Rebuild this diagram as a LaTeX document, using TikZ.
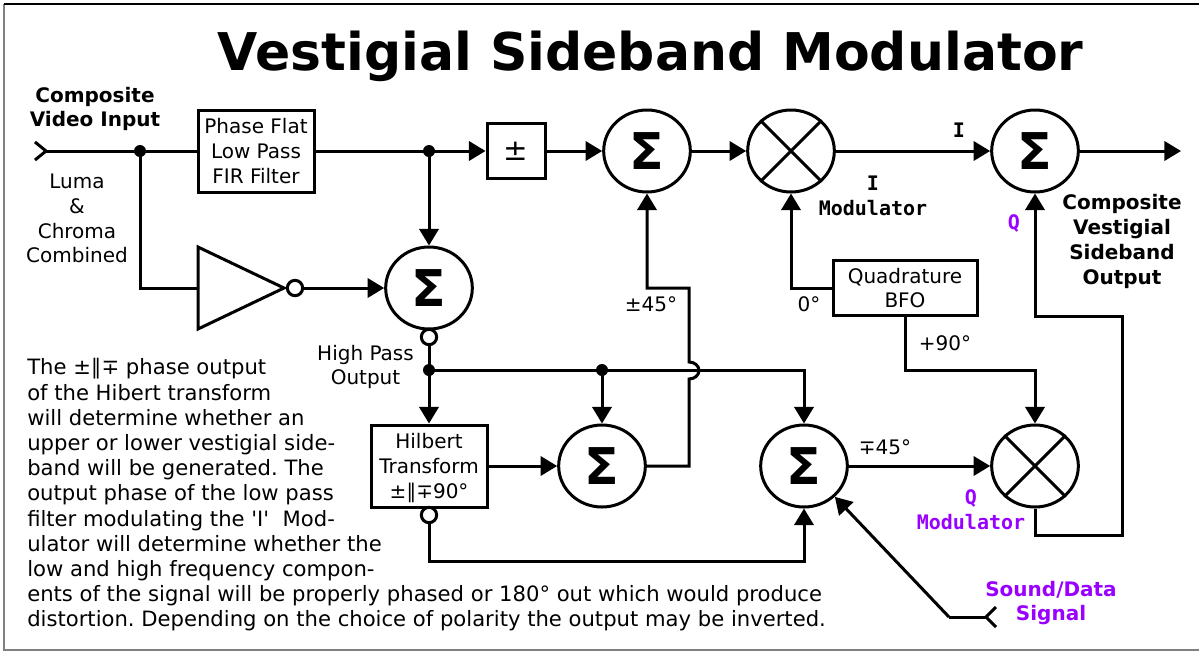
\documentclass[tikz,border=0pt]{standalone}
\usepackage{fontspec}
\setmainfont{DejaVu Sans}
\newfontfamily\monob{DejaVu Sans Mono}
\newfontfamily\plainf{DejaVu Sans}
\usetikzlibrary{arrows.meta,calc,shapes.geometric}
\definecolor{purp}{HTML}{9900FF}
\newcommand{\txt}{\fontsize{15}{18.6}\selectfont}
\newcommand{\ptxt}{\fontsize{15.85}{18.6}\selectfont\frenchspacing}
\tikzset{
 x=0.75pt,y=-0.75pt,
 wire/.style={line width=2.25pt,line join=miter},
 arr/.style={wire,-{Triangle[length=12.5pt,width=14.5pt]}},
 circ/.style={ellipse,draw,line width=2.25pt,minimum width=65pt,minimum height=61.5pt,inner sep=0,fill=white},
 sumnode/.style={circ,font=\fontsize{38}{38}\bfseries\selectfont},
 boxn/.style={rectangle,draw,line width=2.25pt,align=center,inner sep=0,font=\txt,fill=white},
 dotn/.style={circle,fill=black,inner sep=0,minimum size=9pt},
 bub/.style={circle,draw,line width=2.25pt,fill=white,inner sep=0,minimum size=11.5pt},
 lab/.style={align=center,inner sep=0,font=\txt},
 blab/.style={align=center,inner sep=0,font=\txt\bfseries},
 mlab/.style={align=center,inner sep=0,font=\txt\monob\bfseries},
 para/.style={anchor=base west,inner sep=0,font=\ptxt},
}
\begin{document}
\begin{tikzpicture}
\useasboundingbox (0,0) rectangle (1199,651);
\fill[white] (0,0) rectangle (1199,651);
\draw[gray,line width=1pt] (4,4) -- (4,650) -- (1199,650);
\draw[black,line width=1pt] (4,4) -- (1199,4);
\node[inner sep=0,font=\fontsize{39}{39}\bfseries\selectfont] (title) at (650.5,56) {Vestigial Sideband Modulator};
% nodes
\coordinate (in) at (46,151);
\node[boxn,minimum width=87pt,minimum height=61.5pt] (lpf) at (256,151) {Phase Flat\\Low Pass\\FIR Filter};
\node[boxn,minimum width=43.5pt,minimum height=41pt] (pm) at (516,151) {\fontsize{22}{22}\selectfont ±};
\node[sumnode] (s1) at (647,151) {Σ};
\node[circ] (x1) at (791,151) {};
\node[sumnode] (s4) at (1035,151) {Σ};
\coordinate (out) at (1181,151);
\node[sumnode] (hp) at (429,288) {Σ};
\node[bub] (b1) at (295,288) {};
\node[bub] (b2) at (429,337) {};
\node[boxn,minimum width=87pt,minimum height=61.5pt] (hil) at (429,466) {\rule{0pt}{14.4pt}Hilbert\\Transform\\±∥∓90°};
\node[bub] (b3) at (429,515) {};
\node[sumnode] (s2) at (602,466) {Σ};
\node[sumnode] (s3) at (804,466) {Σ};
\node[circ] (x2) at (1035,466) {};
\node[boxn,minimum width=108pt,minimum height=41pt] (bfo) at (905,288) {Quadrature\\BFO};
\coordinate (snd) at (986,617);
\coordinate (sndb) at (949,617);
% inverter
\draw[wire,fill=white] (198,247) coordinate (tria) -- (198,329) -- (284,288) coordinate (trit) -- cycle;
\coordinate (tril) at (198,288);
% X marks
\foreach \n in {x1,x2}{
 \draw[wire] (\n.45) -- (\n.225);
 \draw[wire] (\n.135) -- (\n.315);
}
% connectors
\coordinate (c1) at (140,151);
\coordinate (c2) at (429,151);
\coordinate (c3) at (429,370);
\coordinate (c4) at (602,370);
\draw[wire] (35,142) -- (in) -- (35,160);
\draw[wire] (in) -- (lpf.west);
\draw[wire] (lpf.east) -- (c2);
\draw[arr] (c2) -- (pm.west);
\draw[arr] (pm.east) -- (s1.west);
\draw[arr] (s1.east) -- (x1.west);
\draw[arr] (x1.east) -- (s4.west);
\draw[arr] (s4.east) -- (out);
\draw[arr] (c2) -- (hp.north);
\draw[wire] (c1) |- (tril);
\draw[arr] (b1.east) -- (hp.west);
\draw[wire] (b2) -- (c3);
\draw[arr] (c3) -- (hil.north);
\draw[arr] (c4) -- (s2.north);
\draw[arr] (c3) -- (804,370) -- (s3.north);
\draw[arr] (hil.east) -- (s2.west);
\draw[arr] (b3.south) |- (804,561) -- (s3.south);
\draw[arr] (s3.east) -- (x2.west);
\draw[arr] (s2.east) -- (689,466) -- (689,379) arc[start angle=90,end angle=-90,x radius=10,y radius=8.5] -- (689,288) -- (647,288) -- (s1.south);
\draw[arr] (bfo.west) -- (791,288) -- (x1.south);
\draw[arr] (bfo.south) |- (1035,370) -- (x2.north);
\draw[arr] (x2.south) |- (1122,535) -- (1122,316) -- (1035,316) -- (s4.south);
\draw[wire] (996,607) -- (snd) -- (996,627);
\draw[wire] (snd) -- (sndb);
\draw[arr] (sndb) -- (s3.-45);
\node[dotn] (j1) at (c1) {};
\node[dotn] (j2) at (c2) {};
\node[dotn] (j3) at (c3) {};
\node[dotn] (j4) at (c4) {};
% labels
\node[blab] (l1) at (95,109) {Composite\\Video Input};
\node[lab] (l2) at (77,218.5) {Luma\\\&\\Chroma\\Combined};
\node[lab] (l3) at (365.5,367) {High Pass\\Output};
\node[lab] (l4) at (651,304) {±45°};
\node[lab] (l5) at (809,304) {0°};
\node[lab] (l6) at (945,343) {+90°};
\node[lab] (l7) at (885,447.5) {∓45°};
\node[mlab] (l8) at (959,130) {I};
\node[mlab] (l9) at (873,196) {I\\Modulator};
\node[mlab,text=purp] (l10) at (1014,223) {Q};
\node[mlab,text=purp] (l11) at (971,510) {Q\\Modulator};
\node[blab] (l12) at (1122,241.5) {Composite\\Vestigial\\Sideband\\Output};
\node[blab,text=purp] (l13) at (1051,603) {Sound/Data\\Signal};
% paragraph
\node[para] (p1) at (27,374) {The ±∥∓ phase output};
\node[para] (p2) at (27,400) {of the Hibert transform};
\node[para] (p3) at (27,425) {will determine whether an};
\node[para] (p4) at (27,450) {upper or lower vestigial side-};
\node[para] (p5) at (27,475) {band will be generated. The};
\node[para] (p6) at (27,500) {output phase of the low pass};
\node[para] (p7) at (27,526) {\plainf filter modulating the 'I'\ \ Mod-};
\node[para] (p8) at (27,551) {ulator will determine whether the};
\node[para] (p9) at (27,576) {low and high frequency compon-};
\node[para] (p10) at (27,601) {ents of the signal will be properly phased or 180° out which would produce};
\node[para] (p11) at (27,626) {distortion. Depending on the choice of polarity the output may be inverted.};
\end{tikzpicture}
\end{document}
